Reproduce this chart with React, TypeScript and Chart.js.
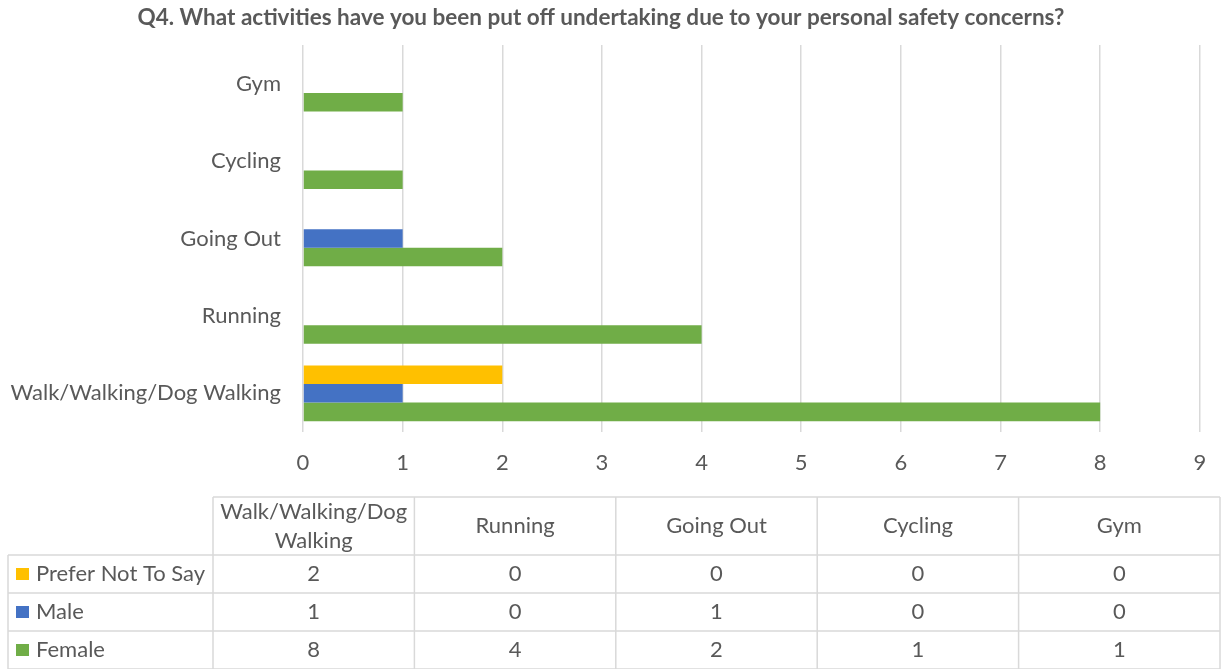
import React, { useEffect, useRef } from "react";
import { Chart, registerables } from "chart.js";

Chart.register(...registerables);

const chartTitle =
  "Q4. What activities have you been put off undertaking due to your personal safety concerns?";
const categories = ["Walk/Walking/Dog Walking", "Running", "Going Out", "Cycling", "Gym"];
const seriesNames = ["Prefer Not To Say", "Male", "Female"];
const preferNotToSay = [2, 0, 0, 0, 0];
const male = [1, 0, 1, 0, 0];
const female = [8, 4, 2, 1, 1];
const seriesColors = ["#FFC000", "#4472C4", "#70AD47"];
const xMin = 0;
const xMax = 9;
const xStep = 1;

const FONT = "Lato, 'Open Sans', sans-serif";
const TEXT = "#595959";
const GRID = "#d9d9d9";
const FS = 22;

const seriesValues = [preferNotToSay, male, female];

// table layout
const T = {
  left: 8,
  labelRight: 213,
  right: 1220,
  top: 497,
  headerBottom: 555,
  rowHeight: 38,
};

const tablePlugin = {
  id: "dataTable",
  afterDraw(chart: any) {
    const ctx: CanvasRenderingContext2D = chart.ctx;
    const nCols = categories.length;
    const colW = (T.right - T.labelRight) / nCols;
    const rowsBottom = T.headerBottom + T.rowHeight * seriesNames.length;
    ctx.save();
    ctx.strokeStyle = GRID;
    ctx.lineWidth = 1.5;
    ctx.beginPath();
    ctx.moveTo(T.labelRight, T.top);
    ctx.lineTo(T.right, T.top);
    for (let r = 0; r <= seriesNames.length; r++) {
      const y = T.headerBottom + r * T.rowHeight;
      ctx.moveTo(T.left, y);
      ctx.lineTo(T.right, y);
    }
    ctx.moveTo(T.left, T.headerBottom);
    ctx.lineTo(T.left, rowsBottom);
    for (let c = 0; c <= nCols; c++) {
      const x = T.labelRight + c * colW;
      ctx.moveTo(x, T.top);
      ctx.lineTo(x, rowsBottom);
    }
    ctx.stroke();

    ctx.fillStyle = TEXT;
    ctx.font = `${FS}px ${FONT}`;
    ctx.textAlign = "center";
    ctx.textBaseline = "middle";
    categories.forEach((cat, c) => {
      const cx = T.labelRight + c * colW + colW / 2;
      const maxW = colW - 14;
      const words = cat.split(" ");
      const lines: string[] = [];
      let cur = "";
      words.forEach((w) => {
        const test = cur ? cur + " " + w : w;
        if (ctx.measureText(test).width > maxW && cur) {
          lines.push(cur);
          cur = w;
        } else cur = test;
      });
      if (cur) lines.push(cur);
      const lh = 29;
      const cy = (T.top + T.headerBottom) / 2;
      lines.forEach((ln, i) => {
        ctx.fillText(ln, cx, cy + (i - (lines.length - 1) / 2) * lh);
      });
    });
    seriesNames.forEach((name, r) => {
      const cy = T.headerBottom + r * T.rowHeight + T.rowHeight / 2;
      ctx.fillStyle = seriesColors[r];
      ctx.fillRect(T.left + 8, cy - 6, 13, 12);
      ctx.fillStyle = TEXT;
      ctx.textAlign = "left";
      ctx.fillText(name, T.left + 28, cy);
      ctx.textAlign = "center";
      seriesValues[r].forEach((v, c) => {
        const cx = T.labelRight + c * colW + colW / 2;
        ctx.fillText(String(v), cx, cy);
      });
    });
    ctx.restore();
  },
};

export default function App() {
  const ref = useRef<HTMLCanvasElement | null>(null);
  useEffect(() => {
    document.body.style.margin = "0";
    const canvas = ref.current!;
    const chart = new Chart(canvas, {
      type: "bar",
      data: {
        labels: categories,
        datasets: seriesNames.map((name, i) => ({
          label: name,
          data: seriesValues[i],
          backgroundColor: seriesColors[i],
          borderWidth: 0,
          categoryPercentage: 0.72,
          barPercentage: 1,
        })),
      },
      options: {
        indexAxis: "y",
        responsive: false,
        animation: false,
        layout: { padding: { left: 0, right: 22, top: 0, bottom: 669 - 432 - 44 } },
        plugins: {
          legend: { display: false },
          tooltip: { enabled: false },
          title: {
            display: true,
            text: chartTitle,
            color: TEXT,
            font: { family: FONT, size: 22.5, weight: "bold", lineHeight: 1.2 },
            padding: { top: 4.5, bottom: 13.5 },
          },
        },
        scales: {
          x: {
            type: "linear",
            min: xMin,
            max: xMax,
            ticks: {
              stepSize: xStep,
              color: TEXT,
              font: { family: FONT, size: FS },
              padding: 17.8,
            },
            grid: { color: GRID, lineWidth: 1.5, drawTicks: false },
            border: { display: false },
            afterFit: (scale: any) => {
              scale.height = 44;
            },
          },
          y: {
            type: "category",
            reverse: true,
            ticks: {
              color: TEXT,
              font: { family: FONT, size: FS },
              padding: 22,
            },
            grid: { display: false, drawTicks: false },
            border: { display: false },
            afterFit: (scale: any) => {
              scale.width = 303;
            },
          },
        },
      },
      plugins: [tablePlugin],
    });
    return () => chart.destroy();
  }, []);
  return (
    <div style={{ position: "fixed", left: 0, top: 0, width: 1224, height: 669, background: "#fff" }}>
      <canvas ref={ref} width={1224} height={669} />
    </div>
  );
}
